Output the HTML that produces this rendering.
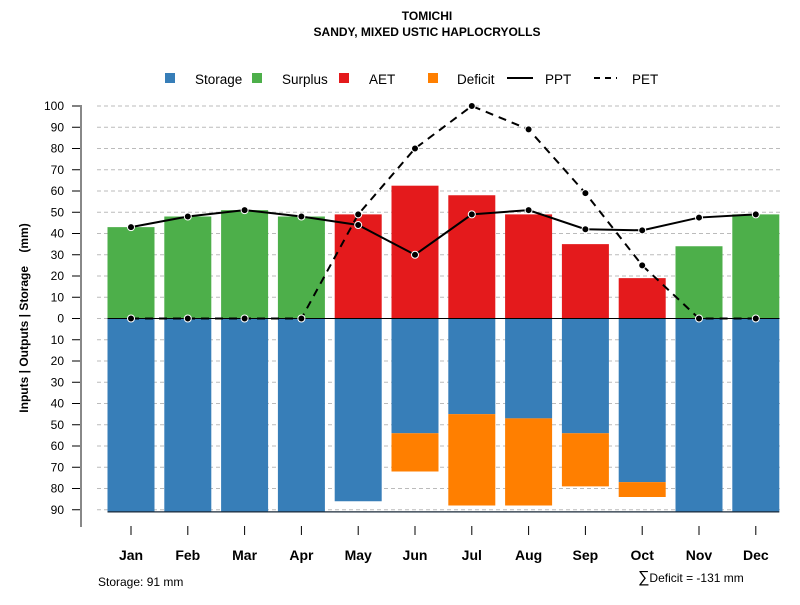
<!DOCTYPE html>
<html><head><meta charset="utf-8"><style>
body{margin:0;background:#fff;font-family:"Liberation Sans",sans-serif}
</style></head><body>
<svg width="800" height="600" xmlns="http://www.w3.org/2000/svg" id="chart" font-family="Liberation Sans, sans-serif">
<text x="427" y="20" text-anchor="middle" font-size="12" font-weight="bold">TOMICHI</text>
<text x="427" y="36" text-anchor="middle" font-size="12" font-weight="bold">SANDY, MIXED USTIC HAPLOCRYOLLS</text>
<g font-size="13.5">
<rect x="165" y="73" width="10" height="10" fill="#377eb8"/>
<text x="195" y="84">Storage</text>
<rect x="252" y="73" width="10" height="10" fill="#4daf4a"/>
<text x="282" y="84">Surplus</text>
<rect x="339" y="73" width="10" height="10" fill="#e41a1c"/>
<text x="369" y="84">AET</text>
<rect x="428" y="73" width="10" height="10" fill="#ff7f00"/>
<text x="457" y="84">Deficit</text>
<line x1="507" y1="78" x2="533" y2="78" stroke="#000" stroke-width="2"/>
<text x="545" y="84">PPT</text>
<line x1="594" y1="78" x2="617" y2="78" stroke="#000" stroke-width="2" stroke-dasharray="6,5"/>
<text x="632" y="84">PET</text>
</g>
<text transform="translate(28,318) rotate(-90)" text-anchor="middle" font-size="12" font-weight="bold" xml:space="preserve" style="white-space:pre">Inputs | Outputs | Storage    (mm)</text>
<text x="98" y="586" font-size="12">Storage: 91 mm</text>
<text x="638" y="582" font-size="12"><tspan font-size="16">∑</tspan>Deficit = -131 mm</text>
<g id="grid"></g><g id="axes"></g><g id="bars"></g><g id="lines"></g>
</svg>
<script>
const months=["Jan","Feb","Mar","Apr","May","Jun","Jul","Aug","Sep","Oct","Nov","Dec"];
const surplus=[43,48,51,48,0,0,0,0,0,0,34,49];
const aet=[0,0,0,0,49,62.5,58,49,35,19,0,0];
const storage=[91,91,91,91,86,54,45,47,54,77,91,91];
const deficit=[0,0,0,0,0,18,43,41,25,7,0,0];
const ppt=[43,48,51,48,44,30,49,51,42,41.5,47.5,49];
const pet=[0,0,0,0,49,80,100,89,59,25,0,0];
const yTicks=[100,90,80,70,60,50,40,30,20,10,0,-10,-20,-30,-40,-50,-60,-70,-80,-90];
const NS="http://www.w3.org/2000/svg";
const y=v=>318.5-v*2.125;
const x=i=>131+i*56.8;
const bw=47;
function mk(tag,attrs,parent){const e=document.createElementNS(NS,tag);for(const k in attrs)e.setAttribute(k,attrs[k]);document.getElementById(parent).appendChild(e);return e;}
yTicks.forEach(t=>{
  const g=mk("line",{x1:97,x2:780,y1:y(t),y2:y(t),stroke:"#bbb","stroke-dasharray":"4,3"},"grid");
  
  
  const tk=mk("line",{x1:72,x2:81,y1:y(t),y2:y(t),stroke:"#000"},"axes");
  
  
  const tl=mk("text",{x:64,y:y(t)+4,"text-anchor":"end","font-size":"12"},"axes");
  tl.textContent=Math.abs(t);
  
  
});
const ax=mk("line",{x1:81,x2:81,y1:105,y2:527,stroke:"#888","stroke-width":2},"axes");


months.forEach((m,i)=>{
  const tk=mk("line",{x1:x(i),x2:x(i),y1:526,y2:535,stroke:"#000"},"axes");
  
  
  const tl=mk("text",{x:x(i),y:560,"text-anchor":"middle","font-size":"14","font-weight":"bold"},"axes");
  tl.textContent=m;
  
  
  const s=mk("rect",{x:x(i)-bw/2,y:y(0),width:bw,height:y(-storage[i])-y(0),fill:"#377eb8"},"bars");
  
  
  if(deficit[i]>0){
    const d=mk("rect",{x:x(i)-bw/2,y:y(-storage[i]),width:bw,height:y(-storage[i]-deficit[i])-y(-storage[i]),fill:"#ff7f00"},"bars");
    
    
  }
  if(surplus[i]>0){
    const r=mk("rect",{x:x(i)-bw/2,y:y(surplus[i]),width:bw,height:y(0)-y(surplus[i]),fill:"#4daf4a"},"bars");
    
    
  }
  if(aet[i]>0){
    const r=mk("rect",{x:x(i)-bw/2,y:y(aet[i]),width:bw,height:y(0)-y(aet[i]),fill:"#e41a1c"},"bars");
    
    
  }
});
const base=mk("line",{x1:x(0)-bw/2,x2:x(11)+bw/2,y1:y(-91),y2:y(-91),stroke:"#1a2a3a","stroke-width":1.2},"bars");


const zero=mk("line",{x1:x(0)-bw/2,x2:x(11)+bw/2,y1:y(0),y2:y(0),stroke:"#000","stroke-width":1},"bars");


const ptsP=ppt.map((v,i)=>x(i)+","+y(v)).join(" ");
const lp=mk("polyline",{points:ptsP,fill:"none",stroke:"#000","stroke-width":2},"lines");


const ptsE=pet.map((v,i)=>x(i)+","+y(v)).join(" ");
const le=mk("polyline",{points:ptsE,fill:"none",stroke:"#000","stroke-width":2,"stroke-dasharray":"8,6"},"lines");


[ppt,pet].forEach((arr,k)=>arr.forEach((v,i)=>{
  const c=mk("circle",{cx:x(i),cy:y(v),r:3.5,fill:"#000",stroke:"#fff","stroke-width":1},"lines");
  
  
}));
</script>
</body></html>
